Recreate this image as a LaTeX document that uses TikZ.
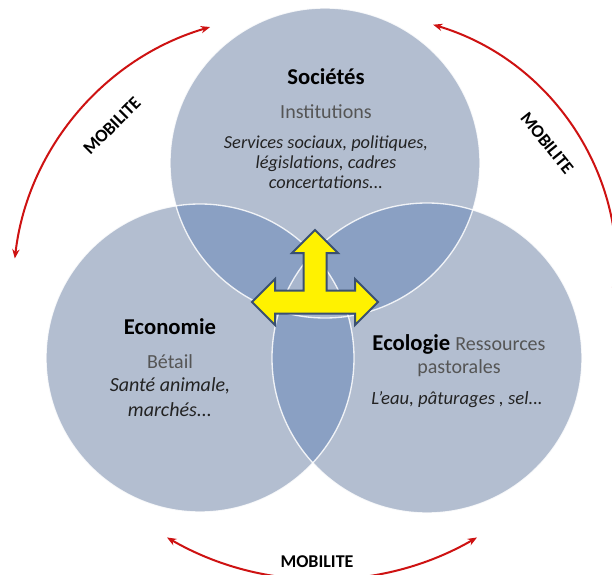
\documentclass[tikz,border=0pt]{standalone}
\usepackage{fontspec}
\setmainfont{Carlito}
\usetikzlibrary{arrows.meta}

\definecolor{vennlight}{RGB}{179,190,208}
\definecolor{venndark}{RGB}{138,160,195}
\definecolor{vennmid}{RGB}{168,182,205}
\definecolor{mobred}{RGB}{206,18,18}
\definecolor{arrowedge}{RGB}{58,80,112}
\definecolor{subgray}{RGB}{85,85,85}
\definecolor{notegray}{RGB}{35,35,35}

\tikzset{
  title/.style={font=\fontsize{17}{20}\selectfont\bfseries, text=black},
  sub/.style={font=\fontsize{15}{18}\selectfont, text=subgray, align=center},
  note/.style={font=\itshape, text=notegray, align=center},
  rim/.style={draw=white, line width=1pt, draw opacity=0.85},
  mobility/.style={draw=mobred, line width=1.5pt, {Stealth[length=7pt,width=5.5pt]}-{Stealth[length=7pt,width=5.5pt]}},
  moblabel/.style={font=\fontsize{13.5}{16}\selectfont\bfseries, text=black},
}

\begin{document}
\begin{tikzpicture}[x=0.75pt, y=-0.75pt]
    \clip (0,0) rectangle (612,575);
    \fill[white] (0,0) rectangle (612,575);

    % Define circle centres
    \coordinate (soc) at (325,163);
    \coordinate (eco) at (200,358);
    \coordinate (ecol) at (427,358);

    % Fill the circles
    \fill[vennlight] (soc) circle [radius=155];
    \fill[vennlight] (eco) circle [radius=154];
    \fill[vennlight] (ecol) circle [radius=155];

    % Overlaps of two circles
    \begin{scope}
        \clip (soc) circle [radius=155];
        \fill[venndark] (eco) circle [radius=154];
        \fill[venndark] (ecol) circle [radius=155];
    \end{scope}
    \begin{scope}
        \clip (eco) circle [radius=154];
        \fill[venndark] (ecol) circle [radius=155];
    \end{scope}
    % Overlap of all three
    \begin{scope}
        \clip (soc) circle [radius=155];
        \clip (eco) circle [radius=154];
        \fill[vennmid] (ecol) circle [radius=155];
    \end{scope}

    % Rims
    \draw[rim] (soc) circle [radius=155];
    \draw[rim] (eco) circle [radius=154];
    \draw[rim] (ecol) circle [radius=155];

    % Yellow three-way arrow
    \draw[fill=yellow, draw=arrowedge, line width=1.5pt, line join=miter]
        (315,230) -- (338,253) -- (326.5,253) -- (326.5,290.5) -- (355,290.5)
        -- (355,279) -- (378,302) -- (355,325) -- (355,313.5) -- (275,313.5)
        -- (275,325) -- (252,302) -- (275,279) -- (275,290.5) -- (303.5,290.5)
        -- (303.5,253) -- (292,253) -- cycle;

    % Texts of the circles
    \node[title] (socTitle) at (326,77) {Sociétés};
    \node[sub] (socSub) at (326,112) {Institutions};
    \node[note, font=\fontsize{13.75}{15}\selectfont\itshape] (socNote) at (326,162)
        {Services sociaux, politiques,\\législations, cadres\\concertations...};

    \node[title] (ecoTitle) at (170,327) {Economie};
    \node[sub] (ecoSub) at (170,362) {Bétail};
    \node[note, font=\fontsize{15}{18.75}\selectfont\itshape] (ecoNote) at (170,397)
        {Santé animale,\\marchés...};

    \node[title] (ecolTitle) at (459,344) {Ecologie {\mdseries\fontsize{15}{18}\selectfont\color{subgray} Ressources}};
    \node[sub] (ecolSub) at (459,368) {pastorales};
    \node[note, font=\fontsize{14}{16}\selectfont\itshape] (ecolNote) at (457,400)
        {L'eau, pâturages , sel...};

    % Arc centres for the mobility arrows
    \coordinate (arcL) at (287,290);
    \coordinate (arcR) at (360,270);
    \coordinate (arcB) at (322,269);

    % Draw mobility arrows
    \draw[mobility] ([shift={(186.6:274)}]arcL) arc [start angle=186.6, end angle=253.7, radius=274];
    \draw[mobility] ([shift={(-73.4:256)}]arcR) arc [start angle=-73.4, end angle=6, radius=256];
    \draw[mobility] ([shift={(60:310)}]arcB) arc [start angle=60, end angle=120, radius=310];

    \node[moblabel, rotate=45] (mobL) at (112,126) {MOBILITE};
    \node[moblabel, rotate=-51] (mobR) at (547,143) {MOBILITE};
    \node[moblabel] (mobB) at (317,562) {MOBILITE};
\end{tikzpicture}
\end{document}
